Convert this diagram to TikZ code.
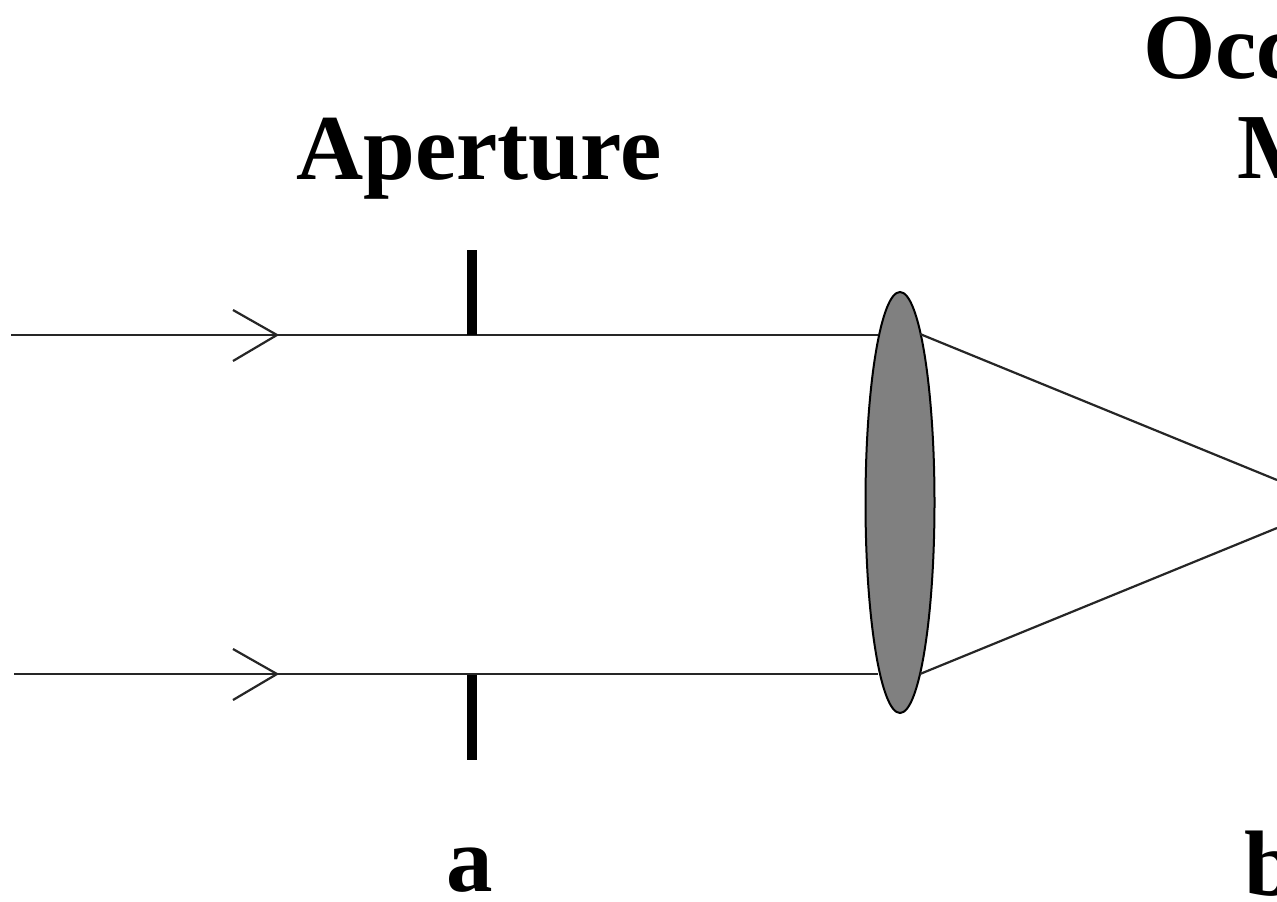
\documentclass[tikz,border=0pt]{standalone}
\usepackage{fontspec}
\usetikzlibrary{shapes.geometric}
\setmainfont{Liberation Serif}
\begin{document}
\begin{tikzpicture}[x=1pt,y=-1pt,
  ray/.style={draw=black!85,line width=2.2pt},
  tip/.style={draw=black!85,line width=2.2pt},
  stopbar/.style={draw=black,line width=9.5pt},
  lab/.style={font=\bfseries\fontsize{93}{93}\selectfont,inner sep=0pt,anchor=base}]
\useasboundingbox[clip] (0,0) rectangle (1277,902);
\coordinate (t0) at (11,335);
\coordinate (t1) at (277,335);
\coordinate (t2) at (878,335);
\coordinate (b0) at (14,674);
\coordinate (b1) at (277,674);
\coordinate (b2) at (878,674);
\coordinate (tl) at (920,334);
\coordinate (bl) at (920,674);
\coordinate (f1) at (1277,480);
\coordinate (f2) at (1277,528);
\draw[ray] (t0) -- (t2);
\draw[ray] (b0) -- (b2);
\draw[tip] (233,310) -- (t1) -- (233,361);
\draw[tip] (233,649) -- (b1) -- (233,700);
\coordinate (a1) at (472,250);
\coordinate (a2) at (472,335);
\coordinate (a3) at (472,675);
\coordinate (a4) at (472,760);
\draw[stopbar] (a1) -- (a2);
\draw[stopbar] (a3) -- (a4);
\node[ellipse,draw=black,line width=2pt,fill=black!50,minimum width=69pt,minimum height=421pt,inner sep=0pt] (lens) at (900,502.5) {};
\draw[ray] (tl) -- (f1);
\draw[ray] (bl) -- (f2);
\node[lab] (ap) at (479,179) {Aperture};
\node[lab,anchor=base west] (oc) at (1143,78) {Occ};
\node[lab,anchor=base west] (m) at (1237,178) {M};
\node[lab] (la) at (470,891) {a};
\node[lab,anchor=base west] (lb) at (1244,895) {b};
\end{tikzpicture}
\end{document}
